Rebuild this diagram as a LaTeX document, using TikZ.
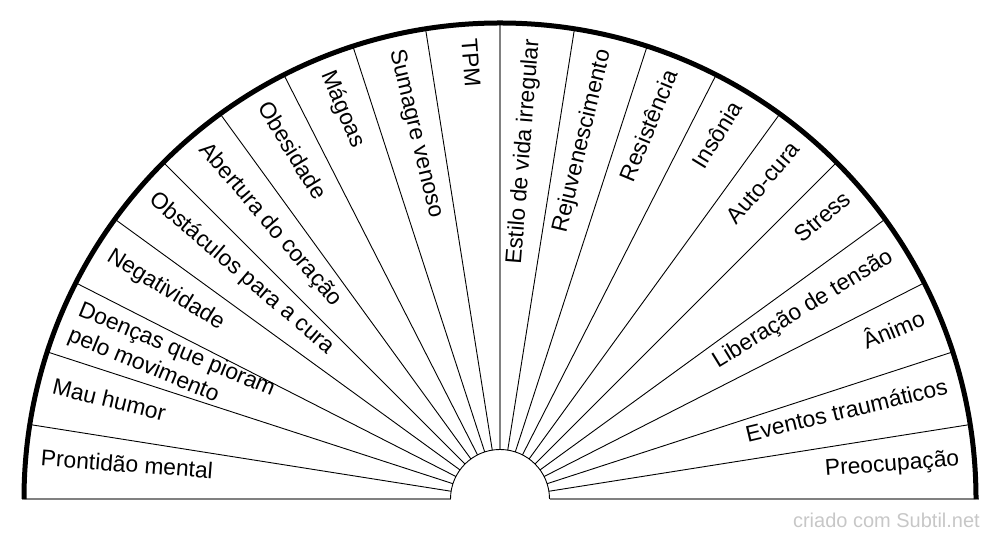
\documentclass[tikz,border=0pt]{standalone}
\usepackage{fontspec}
\setmainfont{Liberation Sans}
\usetikzlibrary{calc}
\tikzset{
  spoke/.style={line width=0.9pt, black},
  midspoke/.style={line width=1.6pt, black!50},
  baseln/.style={line width=1.6pt, black!50},
  rim/.style={line width=5pt, black},
  hub/.style={line width=0.9pt, black},
  labfont/.style={inner sep=0pt, font=\fontsize{22.8}{27}\selectfont},
  lab/.style={labfont, text height=0.75em, text depth=0.25em},
  labL/.style={lab, anchor=west, align=left},
  labR/.style={lab, anchor=east, align=right},
  labLtwo/.style={labfont, anchor=west, align=left},
  wmark/.style={inner sep=0pt, anchor=base east, text=black!22, font=\fontsize{20}{24}\selectfont}
}
\begin{document}
\begin{tikzpicture}[x=1pt,y=1pt]
\useasboundingbox (0,0) rectangle (1000,540);
\coordinate (c) at (500,41);
\def\Rout{476}
\def\Rin{49.5}
\def\Rtxt{461}
% base line
\coordinate (bl1) at ($(c)+(-478.5,0)$);
\coordinate (bl2) at ($(c)+(-\Rin,0)$);
\coordinate (br1) at ($(c)+(\Rin,0)$);
\coordinate (br2) at ($(c)+(478.5,0)$);
\draw[baseln] (bl1) -- (bl2);
\draw[baseln] (br1) -- (br2);
% spokes
\foreach \k in {1,...,19}{
  \pgfmathsetmacro{\ang}{9*\k}
  \coordinate (si\k) at ($(c)+(\ang:\Rin)$);
  \coordinate (so\k) at ($(c)+(\ang:\Rout)$);
}
\foreach \k in {1,...,9,11,12,...,19}{
  \draw[spoke] (si\k) -- (so\k);
}
\draw[midspoke] (si10) -- (so10);
% hub arc
\draw[hub] (br1) arc[start angle=0, end angle=180, radius=\Rin];
% rim
\coordinate (rimstart) at ($(c)+(\Rout,0)$);
\draw[rim] (rimstart) arc[start angle=0, end angle=180, radius=\Rout];
% labels left side
\node[labL, rotate=-4.5]  (l1)  at ($(c)+(175.5:\Rtxt)$) {Prontidão mental};
\node[labL, rotate=-13.5] (l2)  at ($(c)+(166.5:\Rtxt)$) {Mau humor};
\node[labLtwo, rotate=-22.5] (l3)  at ($(c)+(157.5:\Rtxt)$) {Doenças que pioram\\pelo movimento};
\node[labL, rotate=-31.5] (l4)  at ($(c)+(148.5:\Rtxt)$) {Negatividade};
\node[labL, rotate=-40.5] (l5)  at ($(c)+(139.5:\Rtxt)$) {Obstáculos para a cura};
\node[labL, rotate=-49.5] (l6)  at ($(c)+(130.5:\Rtxt)$) {Abertura do coração};
\node[labL, rotate=-58.5] (l7)  at ($(c)+(121.5:\Rtxt)$) {Obesidade};
\node[labL, rotate=-67.5] (l8)  at ($(c)+(112.5:\Rtxt)$) {Mágoas};
\node[labL, rotate=-76.5] (l9)  at ($(c)+(103.5:\Rtxt)$) {Sumagre venoso};
\node[labL, rotate=-85.5] (l10) at ($(c)+(94.5:\Rtxt)$)  {TPM};
% labels right side
\node[labR, rotate=85.5] (l11) at ($(c)+(85.5:\Rtxt)$) {Estilo de vida irregular};
\node[labR, rotate=76.5] (l12) at ($(c)+(76.5:\Rtxt)$) {Rejuvenescimento};
\node[labR, rotate=67.5] (l13) at ($(c)+(67.5:\Rtxt)$) {Resistência};
\node[labR, rotate=58.5] (l14) at ($(c)+(58.5:\Rtxt)$) {Insônia};
\node[labR, rotate=49.5] (l15) at ($(c)+(49.5:\Rtxt)$) {Auto-cura};
\node[labR, rotate=40.5] (l16) at ($(c)+(40.5:\Rtxt)$) {Stress};
\node[labR, rotate=31.5] (l17) at ($(c)+(31.5:\Rtxt)$) {Liberação de tensão};
\node[labR, rotate=22.5] (l18) at ($(c)+(22.5:\Rtxt)$) {Ânimo};
\node[labR, rotate=13.5] (l19) at ($(c)+(13.5:\Rtxt)$) {Eventos traumáticos};
\node[labR, rotate=4.5]  (l20) at ($(c)+(4.5:\Rtxt)$)  {Preocupação};
% watermark
\node[wmark] (wm) at (980,12) {criado com Subtil.net};
\end{tikzpicture}
\end{document}
